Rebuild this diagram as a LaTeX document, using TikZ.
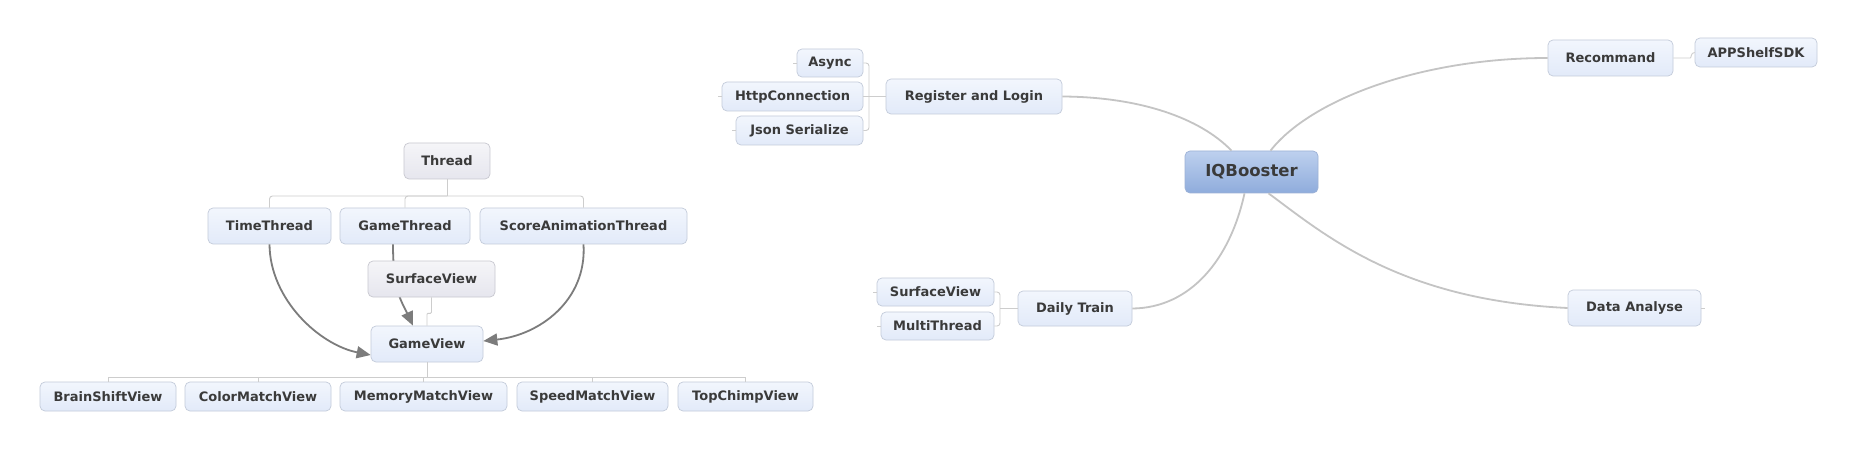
\documentclass[tikz,border=0pt]{standalone}
\usepackage{fontspec}
\setmainfont{DejaVu Sans}
\usetikzlibrary{arrows.meta}

\definecolor{boxtop}{HTML}{F2F6FD}
\definecolor{boxbottom}{HTML}{E2EAF9}
\definecolor{boxline}{HTML}{C3CBDA}
\definecolor{greytop}{HTML}{F5F5F8}
\definecolor{greybottom}{HTML}{E6E6EE}
\definecolor{greyline}{HTML}{C8C8D0}
\definecolor{roottop}{HTML}{BDD0EE}
\definecolor{rootbottom}{HTML}{8FACDC}
\definecolor{rootline}{HTML}{9DB2D6}
\definecolor{ink}{HTML}{3A3A3A}
\definecolor{branchgray}{HTML}{C4C4C4}
\definecolor{linkgray}{HTML}{CDCDCD}
\definecolor{arrowgray}{HTML}{7C7C7C}

\begin{document}
\begin{tikzpicture}[x=1pt, y=-1pt,
    base/.style = {rectangle, rounded corners=5pt, draw=boxline, line width=0.7pt,
      top color=boxtop, bottom color=boxbottom, text=ink,
      inner xsep=1pt, inner ysep=0pt, text centered,
      font=\fontsize{13}{15}\selectfont\bfseries},
    topic/.style = {base, minimum height=36pt},
    leaf/.style = {base, minimum height=29pt},
    greytopic/.style = {topic, draw=greyline, top color=greytop, bottom color=greybottom},
    central/.style = {base, minimum height=42pt, draw=rootline,
      top color=roottop, bottom color=rootbottom,
      font=\fontsize{16.5}{19}\selectfont\bfseries},
    branch/.style = {draw=branchgray, line width=1.8pt},
    link/.style = {draw=linkgray, line width=0.9pt, rounded corners=3pt},
    tick/.style = {draw=linkgray, line width=0.9pt},
    uses/.style = {draw=arrowgray, line width=1.8pt, -{Triangle[length=14pt,width=12pt]}}
]
  \useasboundingbox (0,0) rectangle (1858,449);
  \fill[white] (0,0) rectangle (1858,449);

  % central topic and its branches
  \node (root) [central, minimum width=133pt] at (1251.5,172) {IQBooster};
  \node (reg) [topic, minimum width=176pt, minimum height=35pt] at (974,96.5) {Register and Login};
  \node (async) [leaf, minimum width=66pt, minimum height=28pt] at (830,63) {Async};
  \node (http) [leaf, minimum width=141pt] at (792.5,96.5) {HttpConnection};
  \node (json) [leaf, minimum width=127pt] at (799.5,130.5) {Json Serialize};
  \node (daily) [topic, minimum width=114pt, minimum height=35pt] at (1075,308.5) {Daily Train};
  \node (dsurf) [leaf, minimum width=117pt, minimum height=28pt] at (935.5,292) {SurfaceView};
  \node (multi) [leaf, minimum width=113pt, minimum height=28pt] at (937.5,326) {MultiThread};
  \node (rec) [topic, minimum width=125pt] at (1610.5,58) {Recommand};
  \node (app) [leaf, minimum width=122pt] at (1756,52.5) {APPShelfSDK};
  \node (data) [topic, minimum width=133pt] at (1634.5,308) {Data Analyse};

  \draw[branch] (root.north) ++(-20,0) coordinate (rootnw)
    (reg.east) .. controls (1140,97) and (1200,118) .. (rootnw);
  \draw[branch] (root.north) ++(19,0) coordinate (rootne)
    (rootne) .. controls (1310,100) and (1420,58) .. (rec.west);
  \draw[branch] (root.south) ++(-7,0) coordinate (rootsw)
    (rootsw) .. controls (1230,260) and (1190,308) .. (daily.east);
  \draw[branch] (root.south) ++(17,0) coordinate (rootse)
    (rootse) .. controls (1325,235) and (1400,300) .. (data.west);

  \coordinate (rlfork) at (869,96.5);
  \draw[link] (reg.west) -- (rlfork);
  \draw[link] (async.east) -| (rlfork);
  \draw[link] (json.east) -| (rlfork);
  \draw[link] (http.east) -- (rlfork);

  \coordinate (dtfork) at (1000,308.5);
  \draw[link] (daily.west) -- (dtfork);
  \draw[link] (dsurf.east) -| (dtfork);
  \draw[link] (multi.east) -| (dtfork);

  \draw[link] (rec.east) -- ++(14,0) .. controls +(4,0) and +(-4,0) .. (app.west);

  \foreach \n in {async,http,json,dsurf,multi}
    \draw[tick] (\n.west) -- ++(-4,0);
  \draw[tick] (data.east) -- ++(4,0);

  % thread tree
  \node (thread) [greytopic, minimum width=86pt] at (447,161) {Thread};
  \node (timet) [topic, minimum width=123pt] at (269.5,226) {TimeThread};
  \node (gamet) [topic, minimum width=130pt] at (405,226) {GameThread};
  \node (score) [topic, minimum width=207pt] at (583.5,226) {ScoreAnimationThread};
  \node (gview) [topic, minimum width=112pt] at (427,344) {GameView};

  \coordinate (tfork) at (447,196);
  \draw[link] (thread.south) -- (tfork);
  \draw[link] (timet.north) |- (tfork);
  \draw[link] (gamet.north) |- (tfork);
  \draw[link] (score.north) |- (tfork);

  \draw[uses] (gamet.south) ++(-12,0) coordinate (gamets)
    (gamets) .. controls (393,292) and (402,302) .. ([xshift=-14pt]gview.north);

  \node (lsurf) [greytopic, minimum width=127pt] at (431.5,279) {SurfaceView};
  \draw[link, rounded corners=1pt] (lsurf.south) -- ++(0,16) -| (gview.north);

  \draw[uses] (timet.south) .. controls (270,300) and (320,345) .. ([yshift=-11pt]gview.west);
  \draw[uses] (score.south) .. controls (587,300) and (540,335) .. ([yshift=3pt]gview.east);

  % views
  \node (brain) [leaf, minimum width=136pt] at (108,396.5) {BrainShiftView};
  \node (color) [leaf, minimum width=146pt] at (258,396.5) {ColorMatchView};
  \node (memory) [leaf, minimum width=167pt] at (423.5,396.5) {MemoryMatchView};
  \node (speed) [leaf, minimum width=151pt] at (592.5,396.5) {SpeedMatchView};
  \node (chimp) [leaf, minimum width=135pt] at (745.5,396.5) {TopChimpView};

  \coordinate (vfork) at (427,377);
  \draw[link] (gview.south) -- (vfork);
  \foreach \n in {brain,color,memory,speed,chimp}
    \draw[link, rounded corners=0pt] (\n.north) |- (vfork);

\end{tikzpicture}
\end{document}
